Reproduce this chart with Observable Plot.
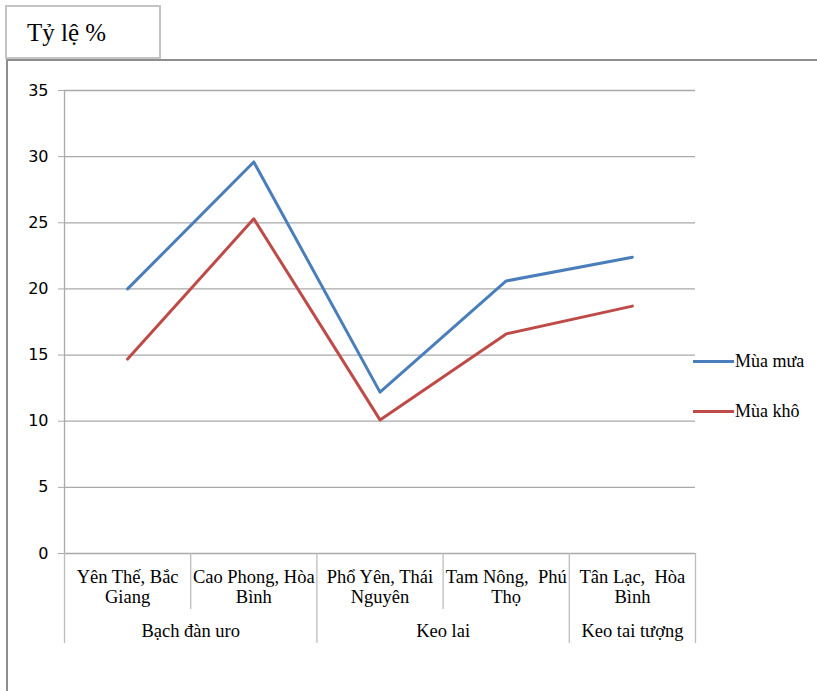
<!DOCTYPE html>
<html><head><meta charset="utf-8">
<script src="https://cdn.jsdelivr.net/npm/d3@7"></script>
<script src="https://cdn.jsdelivr.net/npm/@observablehq/plot@0.6"></script>
<style>
body{margin:0;background:#fff;}
#wrap{position:relative;width:817px;height:691px;overflow:hidden;background:#fff;}
#chart{position:absolute;left:0;top:0;}
#title{position:absolute;left:5px;top:5px;width:156px;height:54px;box-sizing:border-box;border:2px solid #c4c4c4;background:#fff;
 font-family:"Liberation Serif",serif;font-size:25px;line-height:52px;padding-left:20px;color:#000;}
#frame{position:absolute;left:6px;top:59px;width:820px;height:640px;border-left:2px solid #8e8e8e;border-top:2px solid #8e8e8e;}
.lg{position:absolute;font-family:"Liberation Serif",serif;font-size:18px;color:#000;display:flex;align-items:center;}
.lg span.sw{display:inline-block;width:41px;height:3px;margin-right:1px;}
</style></head><body>
<div id="wrap">
 <div id="chart"></div>
 <div id="frame"></div>
 <div id="title">Tỷ lệ %</div>
 <div id="legend"></div>
</div>
<script>
// ---- data ----
const sites = ["Yên Thế, Bắc\nGiang", "Cao Phong, Hòa\nBình", "Phổ Yên, Thái\nNguyên", "Tam Nông,  Phú\nThọ", "Tân Lạc,  Hòa\nBình"];
const groups = ["Bạch đàn uro", "Bạch đàn uro", "Keo lai", "Keo lai", "Keo tai tượng"];
const muaMua = [20.0, 29.6, 12.2, 20.6, 22.4];
const muaKho = [14.7, 25.3, 10.1, 16.6, 18.7];
const seriesNames = ["Mùa mưa", "Mùa khô"];
const seriesColors = ["#4a7ebb", "#be4b48"];
const yTicks = [0, 5, 10, 15, 20, 25, 30, 35];

// ---- derived tables ----
const rows = sites.map((s, i) => ({i, site: s, group: groups[i], mua: muaMua[i], kho: muaKho[i]}));
const groupRows = [];
groups.forEach((g, i) => {
  const last = groupRows[groupRows.length - 1];
  if (last && last.name === g) { last.end = i; } else groupRows.push({name: g, start: i, end: i});
});
groupRows.forEach(g => g.center = (g.start + g.end) / 2);
const longSeps = [-0.5, ...groupRows.map(g => g.end + 0.5)];
const shortSeps = [];
for (let i = 0; i < groups.length - 1; i++) if (groups[i] === groups[i + 1]) shortSeps.push(i + 0.5);

const grid = "#a9a9a9";
const serif = "Liberation Serif";
const chart = Plot.plot({
  width: 817, height: 691,
  marginLeft: 64, marginRight: 122, marginTop: 90, marginBottom: 138,
  style: {background: "transparent", overflow: "visible"},
  x: {type: "linear", domain: [-0.5, groups.length - 0.5], axis: null},
  y: {domain: [0, 35], axis: null},
  marks: [
    Plot.gridY(yTicks, {stroke: grid, strokeOpacity: 1, strokeWidth: 1.3}),
    Plot.axisY(yTicks, {tickSize: 6, tickPadding: 10, stroke: grid, strokeOpacity: 1, fill: "#000",
      fontSize: 16, fontFamily: "DejaVu Sans", tickFormat: d => String(d), label: null}),
    Plot.ruleX([-0.5], {stroke: grid, strokeWidth: 1.3}),
    Plot.ruleX(longSeps, {stroke: "#bdbdbd", strokeWidth: 1.3, insetTop: 463, insetBottom: -90}),
    Plot.ruleX(shortSeps, {stroke: "#bdbdbd", strokeWidth: 1.3, insetTop: 463, insetBottom: -56}),
    Plot.text(rows, {x: "i", y: () => 0, text: "site", dy: 15, lineAnchor: "top", lineHeight: 1.08,
      fontFamily: serif, fontSize: 18.5, fill: "#000"}),
    Plot.text(groupRows, {x: "center", y: () => 0, text: "name", dy: 70, lineAnchor: "top",
      fontFamily: serif, fontSize: 18.5, fill: "#000"}),
    Plot.line(rows, {x: "i", y: "mua", stroke: seriesColors[0], strokeWidth: 3}),
    Plot.line(rows, {x: "i", y: "kho", stroke: seriesColors[1], strokeWidth: 3})
  ]
});
document.getElementById("chart").appendChild(chart);

const legend = document.getElementById("legend");
seriesNames.forEach((n, k) => {
  const d = document.createElement("div");
  d.className = "lg";
  d.style.left = "693px";
  d.style.top = (350 + k * 50) + "px";
  d.style.height = "22px";
  d.innerHTML = `<span class="sw" style="background:${seriesColors[k]}"></span>${n}`;
  legend.appendChild(d);
});
</script>
</body></html>
